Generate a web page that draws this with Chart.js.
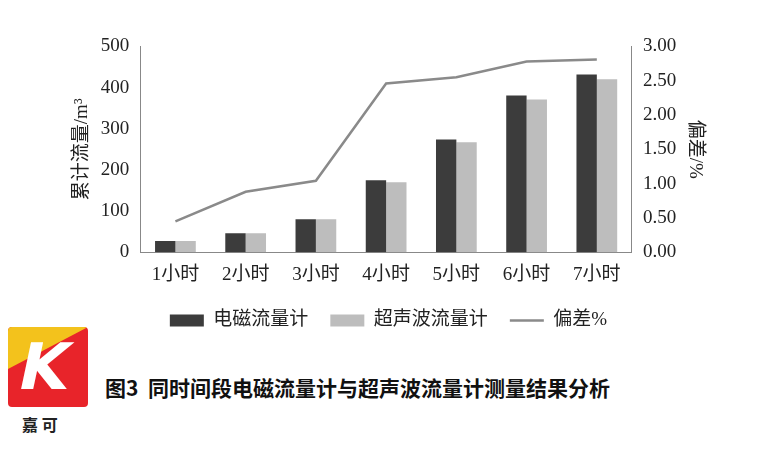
<!DOCTYPE html>
<html><head><meta charset="utf-8">
<script src="https://cdn.jsdelivr.net/npm/chart.js@4"></script>
<style>
body{margin:0;background:#fff;width:770px;height:457px;position:relative;overflow:hidden;font-family:"Noto Sans CJK SC",serif}
#wrap{position:absolute;left:67px;top:32px;width:643px;height:308px}
#cap{position:absolute;left:105px;top:372px;font-size:21px;color:#111;font-weight:bold}
#logo{position:absolute;left:8px;top:327px;width:80px;height:80px;background:#e8242a;border-radius:4px;overflow:hidden}
#logo .y{position:absolute;left:0;top:0;width:80px;height:42px;background:#f3c21c;clip-path:polygon(0 0,100% 0,0 100%)}
#logo .k{position:absolute;left:12px;top:8px;font-size:64px;color:#fff;font-weight:bold;font-family:"DejaVu Sans";transform:skewX(-12deg);line-height:64px}
#lt{position:absolute;left:22px;top:412px;font-size:16px;font-weight:bold;color:#222}
</style></head><body>
<div id="wrap"><canvas id="chart"></canvas></div>
<div id="logo"><div class="y"></div><div class="k">K</div></div>
<div id="lt">嘉 可</div>
<div id="cap">图3&nbsp; 同时间段电磁流量计与超声波流量计测量结果分析</div>
<script>
const categories = ['1小时','2小时','3小时','4小时','5小时','6小时','7小时']
const electro = [27, 46, 80, 175, 274, 381, 432]
const ultra = [27, 46, 80, 170, 267, 371, 420]
const deviation = [0.45, 0.88, 1.04, 2.46, 2.55, 2.78, 2.81]

const font = {family: '"Liberation Serif","Noto Sans CJK SC"', size: 19}

new Chart(document.querySelector('canvas#chart'), {
    data: {
        labels: categories,
        datasets: [
            {type: 'line', label: '偏差%', data: deviation, yAxisID: 'y2', borderColor: '#8a8a8a', backgroundColor: '#8a8a8a', borderWidth: 2.5, pointRadius: 0, pointStyle: 'line', tension: 0, order: 0},
            {type: 'bar', label: '电磁流量计', data: electro, yAxisID: 'y', backgroundColor: '#3c3c3c', pointStyle: 'rect', barPercentage: 1, categoryPercentage: 0.58, order: 1},
            {type: 'bar', label: '超声波流量计', data: ultra, yAxisID: 'y', backgroundColor: '#bdbdbd', pointStyle: 'rect', barPercentage: 1, categoryPercentage: 0.58, order: 2}
        ]
    },
    options: {
        responsive: true, maintainAspectRatio: false, animation: false,
        layout: {padding: {top: 4}},
        plugins: {
            legend: {
                position: 'bottom',
                labels: {
                    font: font, color: '#222', usePointStyle: true, pointStyleWidth: 34, boxHeight: 12, padding: 22,
                    sort: (a, b) => [1, 2, 0].indexOf(a.datasetIndex) - [1, 2, 0].indexOf(b.datasetIndex)
                }
            }
        },
        scales: {
            x: {grid: {display: false}, border: {color: '#888'}, ticks: {font: font, color: '#222'}},
            y: {
                position: 'left', min: 0, max: 500,
                ticks: {stepSize: 100, font: font, color: '#222'},
                grid: {display: false}, border: {color: '#888'},
                title: {display: true, text: '累计流量/m³', font: font, color: '#222'}
            },
            y2: {
                position: 'right', min: 0, max: 3,
                ticks: {stepSize: 0.5, font: font, color: '#222', callback: v => v.toFixed(2)},
                grid: {display: false}, border: {color: '#888'},
                title: {display: true, text: '偏差/%', font: font, color: '#222'}
            }
        }
    }
})
</script>
</body></html>
